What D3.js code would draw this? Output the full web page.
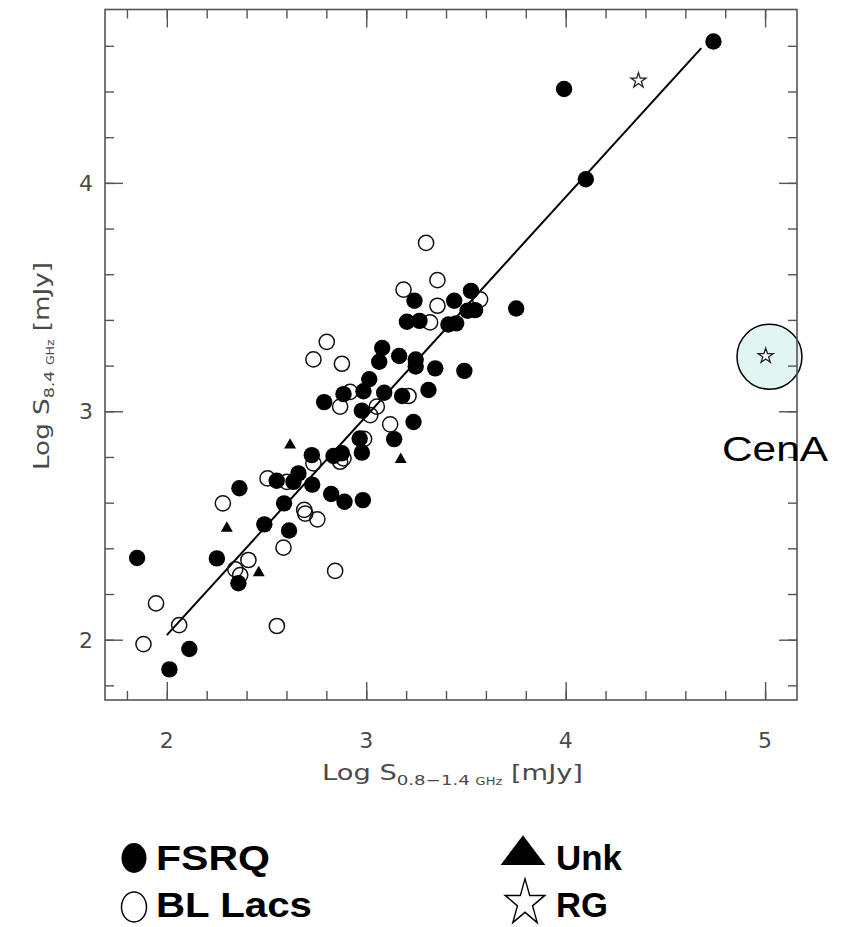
<!DOCTYPE html>
<html><head><meta charset="utf-8">
<script src="https://cdn.jsdelivr.net/npm/d3@7"></script>
<style>body{margin:0;background:#fff}svg{display:block}</style>
</head><body>
<svg id="c" width="849" height="927"></svg>
<script>
// ---- data (log flux densities, mJy) ----
const fsrqX = [4.741,3.992,4.101,3.525,3.242,3.441,3.752,3.508,3.546,3.204,3.267,3.412,3.451,3.080,3.065,3.165,3.248,3.248,3.346,3.492,3.015,2.886,2.986,3.090,3.180,3.312,2.789,2.978,3.237,2.967,3.140,2.978,2.727,2.836,2.878,2.551,2.635,2.660,2.729,2.364,2.824,2.891,2.983,2.588,2.489,2.613,1.851,2.251,2.359,2.113,2.013];
const fsrqY = [4.619,4.411,4.016,3.527,3.484,3.484,3.450,3.440,3.443,3.392,3.396,3.380,3.385,3.277,3.217,3.242,3.227,3.196,3.188,3.177,3.140,3.075,3.088,3.081,3.067,3.093,3.040,3.003,2.953,2.881,2.878,2.819,2.808,2.804,2.816,2.696,2.691,2.728,2.679,2.663,2.638,2.604,2.611,2.597,2.505,2.478,2.358,2.356,2.247,1.959,1.870];
const blX = [3.300,3.357,3.187,3.357,3.571,3.320,2.802,2.735,2.878,2.919,3.212,2.869,3.053,3.020,3.120,2.989,2.735,2.869,2.886,2.505,2.602,2.281,2.689,2.694,2.755,2.585,2.409,2.343,2.368,2.844,1.946,2.062,2.552,1.883];
const blY = [3.737,3.574,3.533,3.462,3.490,3.389,3.304,3.227,3.208,3.085,3.067,3.020,3.020,2.983,2.943,2.879,2.772,2.779,2.794,2.706,2.691,2.597,2.568,2.552,2.527,2.403,2.349,2.308,2.283,2.301,2.159,2.064,2.060,1.981];
const unkX = [2.618,3.173,2.301,2.461];
const unkY = [2.852,2.789,2.488,2.293];
const rgX = [4.365,5.003];
const rgY = [4.448,3.242];
const cenA = {x:5.022, y:3.239, label:"CenA"};
const fitX = [2.0, 4.68];
const fitY = [2.02, 4.59];
const xMajor = [2,3,4,5];
const yMajor = [2,3,4];
const xMinor = d3.range(18,52,2).map(v=>v/10);
const yMinor = d3.range(18,48,2).map(v=>v/10);
const legendItems = ["FSRQ","BL Lacs","Unk","RG"];

// ---- layout ----
const svg = d3.select("#c");
const L=105,R=797,T=9.5,B=700;
const x = d3.scaleLinear().domain([1.69,5.16]).range([L,R]);
const y = d3.scaleLinear().domain([1.736,4.759]).range([B,T]);
const axisCol = "#555";
const axFont = "DejaVu Sans, Liberation Sans, sans-serif";
const txtCol = "#4a4a4a";

// CenA highlight (behind)
svg.append("circle").attr("cx",x(cenA.x)).attr("cy",y(cenA.y)).attr("r",32.5)
  .attr("fill","#e1f6f3").attr("stroke","#000").attr("stroke-width",1.5);

// ticks
function ax(gen, tx, ty, vals, size){
  const g = svg.append("g").attr("transform",`translate(${tx},${ty})`)
    .call(gen.tickValues(vals).tickSize(size).tickSizeOuter(0).tickFormat(""));
  g.select(".domain").remove();
  g.selectAll(".tick line").attr("stroke",axisCol).attr("stroke-width",1.4);
  return g;
}
ax(d3.axisBottom(x),0,B,xMinor,-9);
ax(d3.axisTop(x),0,T,xMinor,-9);
ax(d3.axisLeft(y),L,0,yMinor,-9);
ax(d3.axisRight(y),R,0,yMinor,-9);
ax(d3.axisBottom(x),0,B,xMajor,-18);
ax(d3.axisTop(x),0,T,xMajor,-18);
ax(d3.axisLeft(y),L,0,yMajor,-18);
ax(d3.axisRight(y),R,0,yMajor,-18);

// frame
svg.append("rect").attr("x",L).attr("y",T).attr("width",R-L).attr("height",B-T)
  .attr("fill","none").attr("stroke",axisCol).attr("stroke-width",1.6);

// tick labels
svg.append("g").selectAll("text").data(xMajor).join("text")
  .attr("x",d=>x(d)).attr("y",748).attr("text-anchor","middle")
  .attr("font-size",22).attr("fill",txtCol).attr("font-family",axFont).text(d=>d);
svg.append("g").selectAll("text").data(yMajor).join("text")
  .attr("x",93).attr("y",d=>y(d)+8).attr("text-anchor","end")
  .attr("font-size",22).attr("fill",txtCol).attr("font-family",axFont).text(d=>d);

// axis titles
const xt = svg.append("text").attr("x",322).attr("y",780)
  .attr("font-size",21).attr("fill",txtCol).attr("font-family",axFont)
  .attr("textLength",261).attr("lengthAdjust","spacingAndGlyphs");
xt.append("tspan").text("Log S");
xt.append("tspan").attr("font-size",14).attr("dy",5).text("0.8\u22121.4 ");
xt.append("tspan").attr("font-size",10).text("GHz");
xt.append("tspan").attr("dy",-5).text(" [mJy]");

const yt = svg.append("text").attr("transform","translate(49,470) rotate(-90)")
  .attr("font-size",21).attr("fill",txtCol).attr("font-family",axFont)
  .attr("textLength",208).attr("lengthAdjust","spacingAndGlyphs");
yt.append("tspan").text("Log S");
yt.append("tspan").attr("font-size",14).attr("dy",5).text("8.4 ");
yt.append("tspan").attr("font-size",10).text("GHz");
yt.append("tspan").attr("dy",-5).text(" [mJy]");

// fit line
svg.append("line").attr("x1",x(fitX[0])).attr("y1",y(fitY[0])).attr("x2",x(fitX[1])).attr("y2",y(fitY[1]))
  .attr("stroke","#000").attr("stroke-width",2);

// points
const pts = (xs,ys)=>xs.map((v,i)=>({x:v,y:ys[i]}));
svg.append("g").selectAll("circle").data(pts(blX,blY)).join("circle")
  .attr("cx",d=>x(d.x)).attr("cy",d=>y(d.y)).attr("r",7.6)
  .attr("fill","none").attr("stroke","#111").attr("stroke-width",1.5);
svg.append("g").selectAll("circle").data(pts(fsrqX,fsrqY)).join("circle")
  .attr("cx",d=>x(d.x)).attr("cy",d=>y(d.y)).attr("r",8.2).attr("fill","#000");
svg.append("g").selectAll("path").data(pts(unkX,unkY)).join("path")
  .attr("transform",d=>`translate(${x(d.x)},${y(d.y)})`)
  .attr("d",d3.symbol(d3.symbolTriangle,62)()).attr("fill","#000");
svg.append("g").selectAll("path").data(pts(rgX,rgY)).join("path")
  .attr("transform",d=>`translate(${x(d.x)},${y(d.y)})`)
  .attr("d",d3.symbol(d3.symbolStar,70)()).attr("fill","#fff").attr("stroke","#222").attr("stroke-width",1.3);

// CenA label
svg.append("text").attr("x",722).attr("y",461).attr("font-size",35)
  .attr("font-family","Liberation Sans, Arial, sans-serif").attr("fill","#000")
  .attr("textLength",106).attr("lengthAdjust","spacingAndGlyphs").text(cenA.label);

// legend
const lg = svg.append("g").attr("font-family","Liberation Sans, Arial, sans-serif").attr("font-weight","bold").attr("fill","#000");
lg.append("ellipse").attr("cx",134).attr("cy",858).attr("rx",12.5).attr("ry",15).attr("fill","#000");
lg.append("ellipse").attr("cx",134).attr("cy",907).attr("rx",12.5).attr("ry",15).attr("fill","none").attr("stroke","#000").attr("stroke-width",1.5);
lg.append("path").attr("transform","translate(523,855) scale(1.7,1.3)")
  .attr("d",d3.symbol(d3.symbolTriangle,300)()).attr("fill","#000");
lg.append("path").attr("transform","translate(525,903) scale(0.9,1.05)")
  .attr("d",d3.symbol(d3.symbolStar,600)()).attr("fill","#fff").attr("stroke","#000").attr("stroke-width",1.5);
const lpos = [[156,870,114],[156,917,156],[556,870,66],[556,917,52]];
lg.selectAll("text").data(legendItems).join("text")
  .attr("transform",(d,i)=>`translate(${lpos[i][0]},${lpos[i][1]}) scale(1,1.12)`)
  .attr("font-size",32)
  .attr("textLength",(d,i)=>lpos[i][2]).attr("lengthAdjust","spacingAndGlyphs").text(d=>d);
</script>
</body></html>
